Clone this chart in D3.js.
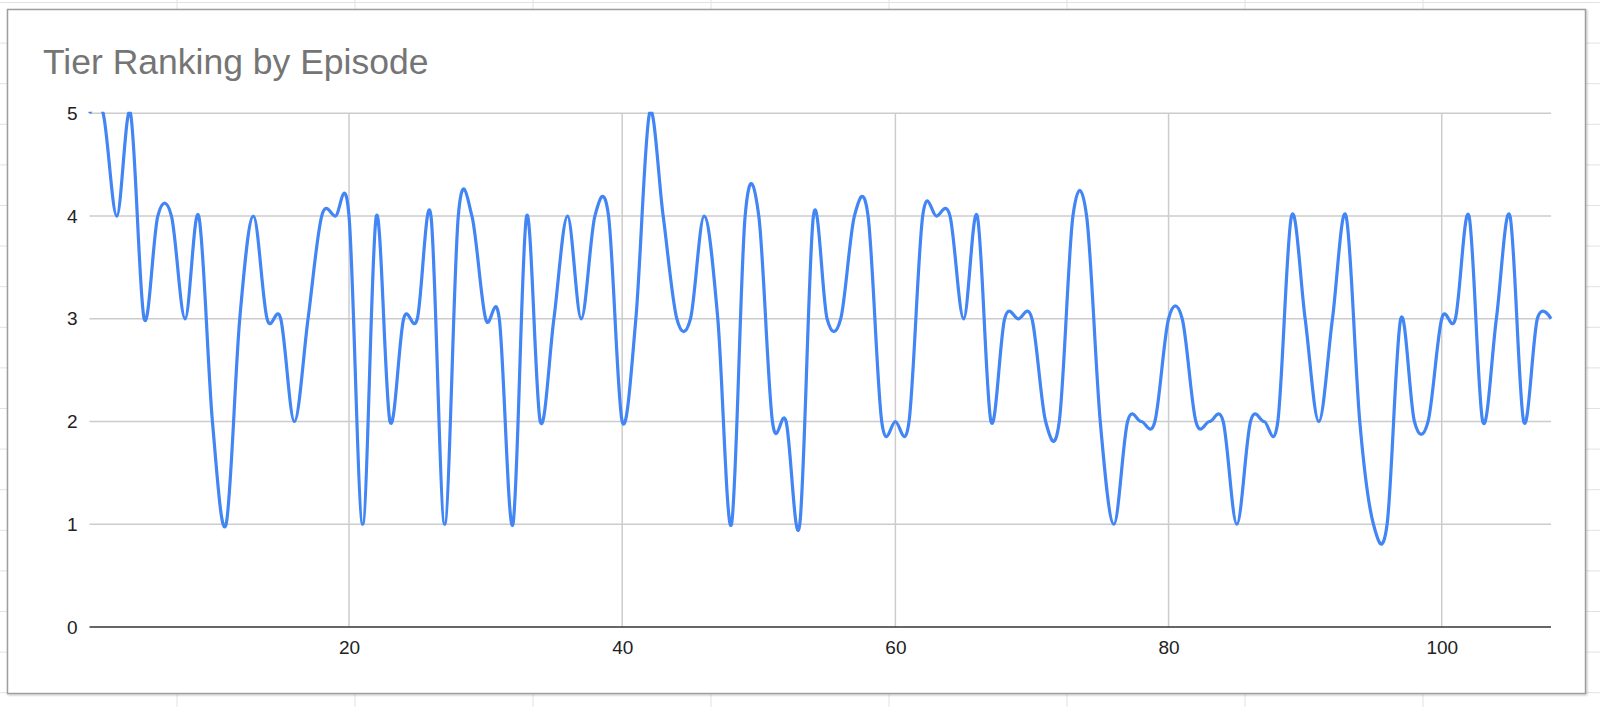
<!DOCTYPE html>
<html>
<head>
<meta charset="utf-8">
<script src="https://cdnjs.cloudflare.com/ajax/libs/d3/7.8.5/d3.min.js"></script>
<style>
  body { margin: 0; background: #fff; }
  svg { display: block; font-family: "Liberation Sans", Arial, sans-serif; }
</style>
</head>
<body>
<svg id="chart" width="1600" height="707"></svg>
<script>
// episode numbers and tier ranking for each episode
var episodes = d3.range(1, 109);
var tiers = [
  5, 5, 4, 5, 3, 4, 4, 3, 4, 2,
  1, 3, 4, 3, 3, 2, 3, 4, 4, 4,
  1, 4, 2, 3, 3, 4, 1, 4, 4, 3,
  3, 1, 4, 2, 3, 4, 3, 4, 4, 2,
  3, 5, 4, 3, 3, 4, 3, 1, 4, 4,
  2, 2, 1, 4, 3, 3, 4, 4, 2, 2,
  2, 4, 4, 4, 3, 4, 2, 3, 3, 3,
  2, 2, 4, 4, 2, 1, 2, 2, 2, 3,
  3, 2, 2, 2, 1, 2, 2, 2, 4, 3,
  2, 3, 4, 2, 1, 1, 3, 2, 2, 3,
  3, 4, 2, 3, 4, 2, 3, 3
];
var xTicks = [20, 40, 60, 80, 100];
var yTicks = [0, 1, 2, 3, 4, 5];
var title = "Tier Ranking by Episode";

var data = episodes.map(function(e, i) { return {ep: e, tier: tiers[i]}; });

var svg = d3.select("#chart");

// spreadsheet cells behind the chart card
var sheet = svg.append("g").attr("class", "sheet");
sheet.selectAll("line.row")
  .data(d3.range(0, 18))
  .enter().append("line")
    .attr("x1", 0).attr("x2", 1600)
    .attr("y1", function(d) { return 2.5 + d * 40.6; })
    .attr("y2", function(d) { return 2.5 + d * 40.6; })
    .attr("stroke", "#e2e2e2").attr("stroke-width", 1);
sheet.selectAll("line.col")
  .data(d3.range(0, 9))
  .enter().append("line")
    .attr("y1", 0).attr("y2", 707)
    .attr("x1", function(d) { return 177 + d * 178; })
    .attr("x2", function(d) { return 177 + d * 178; })
    .attr("stroke", "#e2e2e2").attr("stroke-width", 1);

// card
var defs = svg.append("defs");
var shadow = defs.append("filter").attr("id", "shadow")
  .attr("x", "-2%").attr("y", "-2%").attr("width", "104%").attr("height", "104%");
shadow.append("feDropShadow")
  .attr("dx", 1).attr("dy", 1).attr("stdDeviation", 1)
  .attr("flood-color", "#000").attr("flood-opacity", 0.25);

svg.append("rect")
  .attr("x", 7.5).attr("y", 9.5)
  .attr("width", 1578).attr("height", 684)
  .attr("fill", "#fff")
  .attr("stroke", "#9e9e9e").attr("stroke-width", 1.5)
  .attr("filter", "url(#shadow)");

svg.append("text")
  .attr("x", 43).attr("y", 74)
  .attr("fill", "#757575")
  .style("font-size", "35.5px")
  .text(title);

var margin = {top: 113.3, left: 89.5, right: 1551, bottom: 627};

var x = d3.scaleLinear()
  .domain([1, 108])
  .range([margin.left, margin.right]);

var y = d3.scaleLinear()
  .domain([0, 5])
  .range([margin.bottom, margin.top]);

// gridlines
svg.append("g")
  .selectAll("line")
  .data(yTicks.filter(function(d) { return d > 0; }))
  .enter().append("line")
    .attr("x1", margin.left).attr("x2", margin.right)
    .attr("y1", y).attr("y2", y)
    .attr("stroke", "#cccccc").attr("stroke-width", 1.5);

svg.append("g")
  .selectAll("line")
  .data(xTicks)
  .enter().append("line")
    .attr("x1", x).attr("x2", x)
    .attr("y1", margin.top).attr("y2", margin.bottom)
    .attr("stroke", "#cccccc").attr("stroke-width", 1.5);

// axes
var xAxis = svg.append("g")
  .attr("transform", "translate(0," + margin.bottom + ")")
  .call(d3.axisBottom(x).tickValues(xTicks).tickSize(0).tickPadding(14));
xAxis.select(".domain").remove();

var yAxis = svg.append("g")
  .attr("transform", "translate(" + margin.left + ",0)")
  .call(d3.axisLeft(y).tickValues(yTicks).tickFormat(d3.format("d")).tickSize(0).tickPadding(12));
yAxis.select(".domain").remove();

svg.selectAll(".tick text")
  .attr("fill", "#222")
  .style("font-size", "19px")
  .style("font-family", "'Liberation Sans', Arial, sans-serif");

svg.append("line")
  .attr("x1", margin.left).attr("x2", margin.right)
  .attr("y1", y(0)).attr("y2", y(0))
  .attr("stroke", "#333").attr("stroke-width", 1.5);

// the smoothed line, clipped to the plot area
defs.append("clipPath").attr("id", "plot")
  .append("rect")
    .attr("x", margin.left - 2).attr("y", margin.top - 1.5)
    .attr("width", margin.right - margin.left + 4)
    .attr("height", margin.bottom - margin.top + 3);

var line = d3.line()
  .x(function(d) { return x(d.ep); })
  .y(function(d) { return y(d.tier); })
  .curve(d3.curveCardinal.tension(0));

svg.append("path")
  .datum(data)
  .attr("clip-path", "url(#plot)")
  .attr("fill", "none")
  .attr("stroke", "#4285f4")
  .attr("stroke-width", 3.2)
  .attr("stroke-linejoin", "round")
  .attr("d", line);
</script>
</body>
</html>
